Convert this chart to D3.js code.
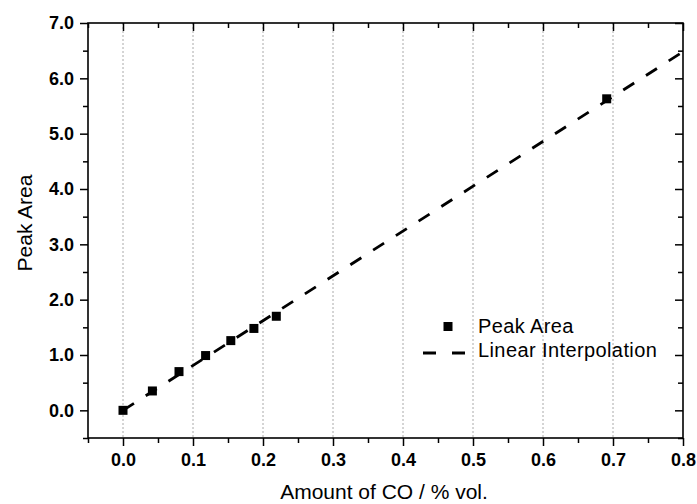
<!DOCTYPE html>
<html><head><meta charset="utf-8">
<script src="https://cdn.jsdelivr.net/npm/d3@7"></script>
<style>body{margin:0;background:#fff}text{font-family:Arial,"Liberation Sans",sans-serif}</style>
</head><body><svg id="c" width="697" height="504"></svg>
<script>
const xValues = [0.0, 0.042, 0.080, 0.118, 0.154, 0.187, 0.219, 0.691];
const yValues = [0.0, 0.35, 0.70, 0.99, 1.26, 1.48, 1.70, 5.63];
const fitX = [0.0, 0.8];
const fitY = [0.0, 6.48];
const xTicks = [0.0, 0.1, 0.2, 0.3, 0.4, 0.5, 0.6, 0.7, 0.8];
const yTicks = [0.0, 1.0, 2.0, 3.0, 4.0, 5.0, 6.0, 7.0];
const xMinor = [-0.05, 0.05, 0.15, 0.25, 0.35, 0.45, 0.55, 0.65, 0.75];
const yMinor = [-0.5, 0.5, 1.5, 2.5, 3.5, 4.5, 5.5, 6.5];
const gridX = [0.0, 0.1, 0.2, 0.3, 0.4, 0.5, 0.6, 0.7];

const svg = d3.select('#c');
const L = 88, R = 683, T = 23, B = 438;
const x = d3.scaleLinear().domain([-0.05, 0.8]).range([L, R]);
const y = d3.scaleLinear().domain([-0.5, 7.0]).range([B, T]);

// grid
svg.append('g').selectAll('line').data(gridX).join('line')
  .attr('x1', d => x(d)).attr('x2', d => x(d)).attr('y1', T).attr('y2', B)
  .attr('stroke', '#aaa').attr('stroke-width', 1).attr('stroke-dasharray', '2,2');

// axes
const fmt = d3.format('.1f');
const gB = svg.append('g').attr('transform', `translate(0,${B})`)
  .call(d3.axisBottom(x).tickValues(xTicks).tickFormat(fmt).tickSize(8).tickPadding(7));
const gBm = svg.append('g').attr('transform', `translate(0,${B})`)
  .call(d3.axisBottom(x).tickValues(xMinor).tickFormat('').tickSize(5));
const gL = svg.append('g').attr('transform', `translate(${L},0)`)
  .call(d3.axisLeft(y).tickValues(yTicks).tickFormat(fmt).tickSize(8).tickPadding(6));
const gLm = svg.append('g').attr('transform', `translate(${L},0)`)
  .call(d3.axisLeft(y).tickValues(yMinor).tickFormat('').tickSize(5));
const gT = svg.append('g').attr('transform', `translate(0,${T})`)
  .call(d3.axisBottom(x).tickValues(xTicks).tickFormat('').tickSize(8));
const gTm = svg.append('g').attr('transform', `translate(0,${T})`)
  .call(d3.axisBottom(x).tickValues(xMinor).tickFormat('').tickSize(5));
const gR = svg.append('g').attr('transform', `translate(${R},0)`)
  .call(d3.axisLeft(y).tickValues(yTicks).tickFormat('').tickSize(8));
const gRm = svg.append('g').attr('transform', `translate(${R},0)`)
  .call(d3.axisLeft(y).tickValues(yMinor).tickFormat('').tickSize(5));
[gB,gBm,gL,gLm,gT,gTm,gR,gRm].forEach(g => {
  g.select('.domain').remove();
  g.selectAll('line').attr('stroke', '#000').attr('stroke-width', 1.5);
  g.selectAll('text').attr('font-size', 18).attr('font-weight', 'bold').attr('fill', '#000')
    .attr('font-family', 'Arial, "Liberation Sans", sans-serif');
});
svg.append('rect').attr('x', L).attr('y', T).attr('width', R - L).attr('height', B - T)
  .attr('fill', 'none').attr('stroke', '#000').attr('stroke-width', 1.6);

// fit line
const pts = fitX.map((v, i) => [v, fitY[i]]);
svg.append('path').datum(pts)
  .attr('d', d3.line().x(d => x(d[0])).y(d => y(d[1])))
  .attr('fill', 'none').attr('stroke', '#000').attr('stroke-width', 2.8)
  .attr('stroke-dasharray', '13,14');

// markers
const s = 9;
svg.append('g').selectAll('rect').data(xValues.map((v, i) => [v, yValues[i]])).join('rect')
  .attr('x', d => x(d[0]) - s / 2).attr('y', d => y(d[1]) - s / 2)
  .attr('width', s).attr('height', s).attr('fill', '#000');

// legend
const lg = svg.append('g');
lg.append('rect').attr('x', 443.5).attr('y', 322).attr('width', 9).attr('height', 9).attr('fill', '#000');
lg.append('line').attr('x1', 423).attr('x2', 465).attr('y1', 353).attr('y2', 353)
  .attr('stroke', '#000').attr('stroke-width', 2.8).attr('stroke-dasharray', '13,16');
lg.append('text').attr('x', 478).attr('y', 333).attr('font-size', 20).attr('letter-spacing', 0.4).text('Peak Area');
lg.append('text').attr('x', 478).attr('y', 356.5).attr('font-size', 20).attr('letter-spacing', 0.4).text('Linear Interpolation');

// titles
svg.append('text').attr('x', 384).attr('y', 499).attr('text-anchor', 'middle')
  .attr('font-size', 21).text('Amount of CO / % vol.');
svg.append('text').attr('transform', 'translate(32,223) rotate(-90)').attr('text-anchor', 'middle')
  .attr('font-size', 21).text('Peak Area');
</script></body></html>
